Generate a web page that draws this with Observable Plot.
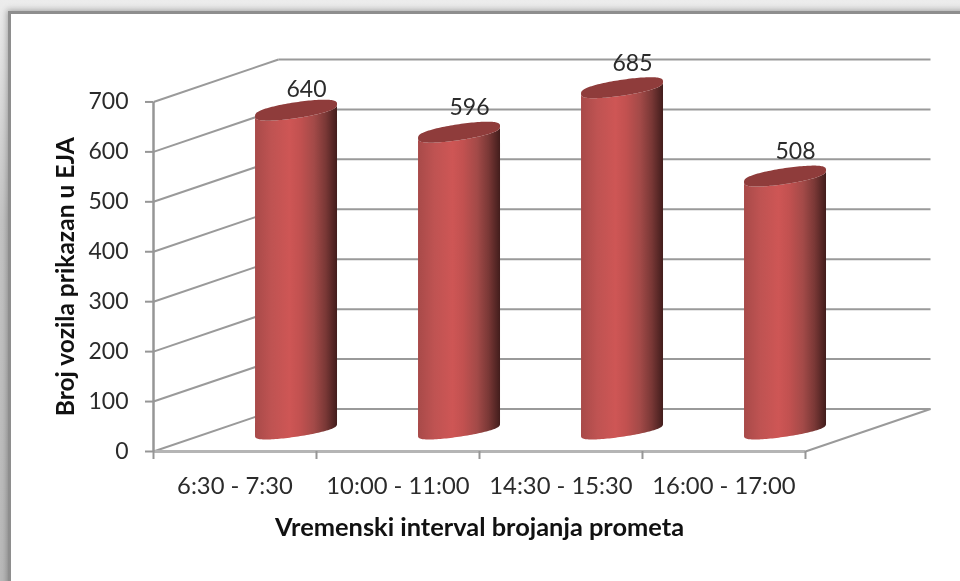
<!DOCTYPE html>
<html>
<head>
<meta charset="utf-8">
<script src="https://cdn.jsdelivr.net/npm/d3@7"></script>
<script src="https://cdn.jsdelivr.net/npm/@observablehq/plot@0.6"></script>
<style>
html,body{margin:0;padding:0;width:960px;height:581px;overflow:hidden;background:linear-gradient(#ececec 0,#c4c4c4 220px,#b9b9b9 581px);}
#frame{position:absolute;left:8px;top:11px;width:1100px;height:800px;background:#fff;border:3px solid #8e8e8e;box-sizing:border-box;box-shadow:0 0 6px 1px rgba(0,0,0,.3);}
#chart{position:absolute;left:0;top:0;}
#chart svg{filter:blur(.45px);}
</style>
</head>
<body>
<div id="frame"></div>
<div id="chart"></div>
<script>
const categories = ["6:30 - 7:30", "10:00 - 11:00", "14:30 - 15:30", "16:00 - 17:00"];
const values = [640, 596, 685, 508];
const yTicks = [0, 100, 200, 300, 400, 500, 600, 700];
const xTicks = [0, 1, 2, 3, 4];
const yTitle = "Broj vozila prikazan u EJA";
const xTitle = "Vremenski interval brojanja prometa";

// oblique projection of the chart's depth, in scale units
const depthX = 0.767, depthY = 85;
const radiusX = 0.2515, tiltY = 12, radiusY = 16, baseRadiusY = 14;
const angles = d3.range(0, 61).map(i => i / 60 * Math.PI);
const bulge = t => Math.pow(Math.sin(t), 0.7);
const centreX = i => i + 0.5 + depthX / 2 - 0.006;
const baseY = depthY / 2;

const body = values.flatMap((v, i) => angles.map(t => ({
  i,
  x: centreX(i) + radiusX * Math.cos(t),
  y1: baseY + tiltY * Math.cos(t) - baseRadiusY * bulge(t),
  y2: baseY + v + tiltY * Math.cos(t) - radiusY * bulge(t)
})));
const cap = values.flatMap((v, i) => angles.map(t => ({
  i,
  x: centreX(i) + radiusX * Math.cos(t),
  y1: baseY + v + tiltY * Math.cos(t) - radiusY * bulge(t),
  y2: baseY + v + tiltY * Math.cos(t) + radiusY * bulge(t)
})));
const labels = values.map((v, i) => ({v, x: centreX(i), y: baseY + v}));

const gridColor = "#9a9a9a";
const textColor = "#2b2b2b";
const plot = Plot.plot({
  width: 960,
  height: 581,
  marginLeft: 153,
  marginRight: 30,
  marginTop: 59,
  marginBottom: 130,
  style: {fontFamily: "Lato", background: "transparent", overflow: "visible"},
  x: {domain: [0, 4 + depthX], axis: null},
  y: {domain: [0, 700 + depthY], axis: null},
  marks: [
    () => {
      const ns = "http://www.w3.org/2000/svg";
      const defs = document.createElementNS(ns, "defs");
      const g = document.createElementNS(ns, "linearGradient");
      g.setAttribute("id", "cyl");
      [[0, "#a84a49"], [0.2, "#bf5352"], [0.42, "#ce5655"], [0.55, "#c25150"], [0.72, "#a34a48"], [0.86, "#7a3836"], [1, "#421d1c"]].forEach(([o, c]) => {
        const s = document.createElementNS(ns, "stop");
        s.setAttribute("offset", o);
        s.setAttribute("stop-color", c);
        g.appendChild(s);
      });
      defs.appendChild(g);
      return defs;
    },
    // left wall
    Plot.link(yTicks, {x1: () => 0, y1: d => d, x2: () => depthX, y2: d => d + depthY, stroke: gridColor, strokeWidth: 2}),
    // back wall
    Plot.link(yTicks, {x1: () => depthX, y1: d => d + depthY, x2: () => 4 + depthX, y2: d => d + depthY, stroke: gridColor, strokeWidth: 2}),
    // floor
    Plot.link([0], {x1: () => 4, y1: () => 0, x2: () => 4 + depthX, y2: () => depthY, stroke: gridColor, strokeWidth: 2}),
    Plot.link([0], {x1: () => 0, y1: () => 0, x2: () => 4, y2: () => 0, stroke: "#b5b5b5", strokeWidth: 3}),
    Plot.link([0], {x1: () => 0, y1: () => 0, x2: () => 0, y2: () => 700, stroke: "#969696", strokeWidth: 2.5}),
    Plot.axisY(yTicks, {anchor: "left", label: null, tickSize: 8, tickPadding: 17, fontSize: 23, stroke: "#969696", strokeWidth: 2, fill: textColor}),
    Plot.axisX(xTicks, {anchor: "bottom", label: null, tickSize: 8, tickFormat: () => "", stroke: "#969696", strokeWidth: 2}),
    // cylinders
    Plot.area(body, {x1: "x", y1: "y1", y2: "y2", z: "i", fill: "url(#cyl)", curve: "linear"}),
    Plot.area(cap, {x1: "x", y1: "y1", y2: "y2", z: "i", fill: "#8f3c3b", curve: "linear"}),
    // texts
    Plot.text(labels, {filter: d => d.v !== 640, x: "x", y: "y", text: "v", dx: 10, dy: -25, fontSize: 23, fill: textColor}),
    Plot.text(labels, {filter: d => d.v === 640, x: "x", y: "y", text: "v", dx: 10, dy: -21, fontSize: 23, fill: textColor}),
    Plot.text(categories, {x: (d, i) => i + 0.5, y: () => 0, text: d => d, dy: 35, fontSize: 23.8, fill: textColor}),
    Plot.text([xTitle], {x: () => 2, y: () => 0, text: d => d, dy: 76, fontSize: 25.4, fontWeight: "bold", fill: "#111"}),
    Plot.text([yTitle], {frameAnchor: "left", textAnchor: "middle", y: () => 350, text: d => d, dx: -87, rotate: -90, fontSize: 24.6, fontWeight: "bold", fill: "#111"})
  ]
});
document.getElementById("chart").appendChild(plot);
</script>
</body>
</html>
